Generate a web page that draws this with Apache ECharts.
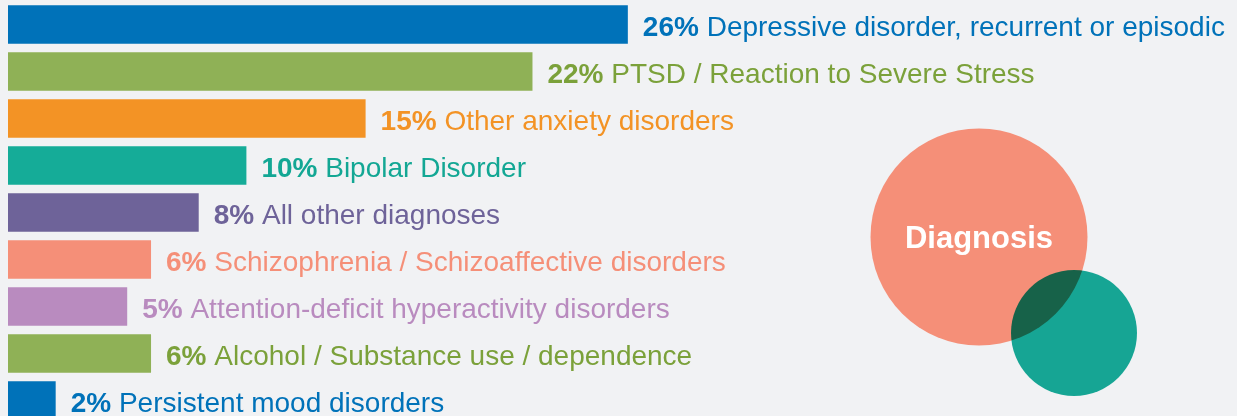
<!DOCTYPE html>
<html>
<head>
<meta charset="utf-8">
<script src="https://cdn.jsdelivr.net/npm/echarts@6/dist/echarts.min.js"></script>
<style>
  html, body { margin: 0; padding: 0; background: #f1f2f4; overflow: hidden; }
  /* taller than the window so the last row is cut off like the reference */
  #main { width: 1237px; height: 440px; }
</style>
</head>
<body>
<div id="main"></div>
<script>
// diagnosis categories, top to bottom
const categories = [
  'Depressive disorder, recurrent or episodic',
  'PTSD / Reaction to Severe Stress',
  'Other anxiety disorders',
  'Bipolar Disorder',
  'All other diagnoses',
  'Schizophrenia / Schizoaffective disorders',
  'Attention-deficit hyperactivity disorders',
  'Alcohol / Substance use / dependence',
  'Persistent mood disorders'
]
const percents = [26, 22, 15, 10, 8, 6, 5, 6, 2]
const barColors = ['#0072b9', '#8fb156', '#f39325', '#15ac98', '#6e6399', '#f58f78', '#b98bbf', '#8fb156', '#0072b9']
const textColors = ['#0072b9', '#7ba13a', '#f39325', '#13a794', '#6e6399', '#f58f78', '#b98bbf', '#7ba13a', '#0072b9']

const myChart = echarts.init(document.getElementById('main'))

const option = {
  backgroundColor: '#f1f2f4',
  animation: false,
  grid: {
    left: 8,
    right: 37,
    top: 1,
    height: 423,
    containLabel: false
  },
  xAxis: {
    type: 'value',
    min: 0,
    max: 50,
    show: false
  },
  yAxis: {
    type: 'category',
    inverse: true,
    data: categories,
    show: false
  },
  series: [
    {
      type: 'bar',
      barCategoryGap: '18%',
      data: percents.map((v, i) => ({
        value: v,
        itemStyle: { color: barColors[i] },
        label: { color: textColors[i] }
      })),
      label: {
        show: true,
        position: 'right',
        distance: 15,
        offset: [0, 4],
        fontFamily: 'Liberation Sans, Arial, sans-serif',
        fontSize: 28,
        formatter: (p) => '{pct|' + p.value + '%} ' + p.name,
        rich: {
          pct: {
            fontWeight: 'bold',
            fontSize: 28,
            fontFamily: 'Liberation Sans, Arial, sans-serif'
          }
        }
      }
    }
  ],
  graphic: [
    {
      type: 'circle',
      shape: { cx: 979, cy: 237, r: 108.5 },
      style: { fill: '#f58f78' }
    },
    {
      type: 'circle',
      shape: { cx: 1074, cy: 333, r: 63 },
      style: { fill: '#17ae9b', blend: 'multiply' }
    },
    {
      type: 'text',
      x: 979,
      y: 239,
      style: {
        text: 'Diagnosis',
        fill: '#fff',
        font: 'bold 31px Liberation Sans, Arial, sans-serif',
        align: 'center',
        verticalAlign: 'middle'
      }
    }
  ]
}

option && myChart.setOption(option)
</script>
</body>
</html>
